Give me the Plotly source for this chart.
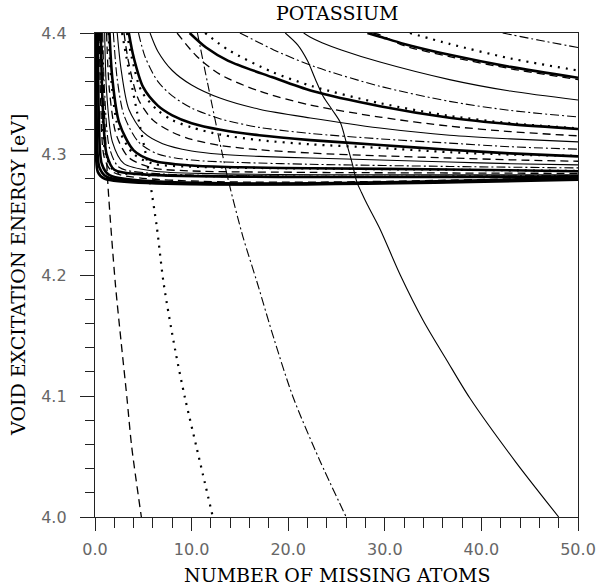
import plotly.graph_objects as go

# ---------------- data (N = missing atoms, E = eV) ----------------
DD1_N = [42.2, 46.0, 50.0]
DD1_E = [4.400, 4.394, 4.388]
D1_N = [32.6, 36.7, 43.0, 50.0]
D1_E = [4.400, 4.391, 4.379, 4.369]
T1_N = [28.2, 29.5, 32.0, 36.7, 43.0, 50.0]
T1_E = [4.400, 4.397, 4.391, 4.382, 4.372, 4.363]
DA1_N = [28.8, 29.5, 32.0, 36.7, 43.0, 50.0]
DA1_E = [4.400, 4.3985, 4.3895, 4.3805, 4.3705, 4.3615]

S2_N = [21.6, 22.3, 23.5, 25.5, 29.5, 36.7, 43.0, 50.0]
S2_E = [4.400, 4.3965, 4.392, 4.386, 4.376, 4.3615, 4.352, 4.3446]
DD2_N = [15.0, 17.0, 18.5, 22.8, 29.5, 36.7, 43.0, 50.0]
DD2_E = [4.400, 4.392, 4.386, 4.372, 4.356, 4.3435, 4.336, 4.3306]
T2_N = [9.8, 11.5, 13.8, 18.3, 22.5, 29.5, 36.7, 43.0, 50.0]
T2_E = [4.400, 4.388, 4.377, 4.3636, 4.352, 4.3395, 4.330, 4.3247, 4.3207]
D2_N = [11.4, 13.8, 18.3, 22.5, 29.5, 36.7, 43.0, 50.0]
D2_E = [4.400, 4.386, 4.368, 4.356, 4.342, 4.3315, 4.3255, 4.3212]
DA2_N = [8.5, 10.5, 12.9, 17.0, 22.3, 29.5, 36.7, 43.0, 50.0]
DA2_E = [4.400, 4.381, 4.366, 4.352, 4.3405, 4.3305, 4.323, 4.3185, 4.315]

S3_N = [5.7, 6.5, 8.0, 10.0, 13.0, 17.0, 22.3, 29.5, 36.7, 43.0, 50.0]
S3_E = [4.400, 4.385, 4.369, 4.357, 4.346, 4.337, 4.3298, 4.3215, 4.3155, 4.3125, 4.310]
DD3_N = [4.5, 5.2, 6.5, 8.0, 10.0, 13.0, 17.0, 22.3, 29.5, 36.7, 43.0, 50.0]
DD3_E = [4.400, 4.380, 4.360, 4.348, 4.338, 4.329, 4.322, 4.317, 4.3125, 4.309, 4.306, 4.304]
T3_N = [3.5, 4.0, 5.0, 6.5, 8.0, 10.0, 13.0, 17.0, 22.3, 29.5, 36.7, 43.0, 50.0]
T3_E = [4.400, 4.380, 4.355, 4.340, 4.332, 4.3255, 4.320, 4.3155, 4.3115, 4.3075, 4.3035, 4.3005, 4.298]
D3_N = [3.3, 3.8, 4.8, 6.5, 8.0, 10.0, 13.0, 17.0, 22.3, 29.5, 36.7, 43.0, 50.0]
D3_E = [4.400, 4.380, 4.352, 4.336, 4.328, 4.322, 4.316, 4.3115, 4.308, 4.305, 4.3015, 4.2995, 4.2985]
DA3_N = [3.0, 3.5, 4.5, 6.0, 8.0, 10.0, 13.0, 17.0, 22.3, 29.5, 36.7, 43.0, 50.0]
DA3_E = [4.400, 4.375, 4.345, 4.328, 4.318, 4.312, 4.307, 4.3035, 4.3008, 4.2985, 4.2967, 4.2952, 4.294]

S4_N = [2.3, 2.7, 3.5, 5.0, 7.0, 10.0, 13.0, 17.0, 22.3, 29.5, 36.7, 43.0, 50.0]
S4_E = [4.400, 4.370, 4.337, 4.318, 4.3085, 4.3025, 4.2998, 4.298, 4.2967, 4.295, 4.2934, 4.292, 4.291]
DD4_N = [1.9, 2.3, 3.0, 4.5, 6.5, 10.0, 15.0, 22.3, 36.7, 50.0]
DD4_E = [4.400, 4.362, 4.332, 4.310, 4.300, 4.295, 4.293, 4.2915, 4.2897, 4.2885]
T4_N = [1.5, 1.8, 2.5, 4.0, 6.0, 10.0, 15.0, 22.3, 36.7, 50.0]
T4_E = [4.400, 4.362, 4.326, 4.303, 4.2945, 4.2905, 4.289, 4.2882, 4.2872, 4.2858]
D4_N = [1.4, 1.7, 2.4, 4.0, 6.0, 10.0, 22.3, 36.7, 50.0]
D4_E = [4.400, 4.360, 4.322, 4.300, 4.292, 4.2895, 4.288, 4.287, 4.286]
DA4_N = [1.2, 1.5, 2.2, 3.5, 6.0, 10.0, 22.3, 36.7, 50.0]
DA4_E = [4.400, 4.352, 4.316, 4.297, 4.2885, 4.286, 4.2848, 4.2843, 4.284]

S5_N = [1.0, 1.2, 1.8, 3.0, 6.0, 12.0, 50.0]
S5_E = [4.400, 4.352, 4.310, 4.292, 4.286, 4.2838, 4.2828]
DD5_N = [0.8, 1.0, 1.5, 2.5, 6.0, 50.0]
DD5_E = [4.400, 4.350, 4.305, 4.289, 4.284, 4.2822]
T5_N = [0.6, 0.8, 1.2, 2.0, 5.0, 50.0]
T5_E = [4.400, 4.340, 4.300, 4.287, 4.2832, 4.2815]
D5_N = [0.55, 0.75, 1.1, 2.0, 5.0, 50.0]
D5_E = [4.400, 4.340, 4.300, 4.286, 4.283, 4.2813]
DA5_N = [0.45, 0.6, 1.0, 2.0, 50.0]
DA5_E = [4.400, 4.340, 4.296, 4.2845, 4.281]
T6_N = [0.3, 0.4, 0.7, 1.5, 50.0]
T6_E = [4.400, 4.330, 4.292, 4.2825, 4.2805]
T7_N = [0.15, 0.2, 0.45, 1.2, 50.0]
T7_E = [4.400, 4.320, 4.289, 4.2812, 4.2797]
T8_N = [0.05, 0.08, 0.3, 1.0, 50.0]
T8_E = [4.400, 4.320, 4.285, 4.2795, 4.2788]

# steep curves that cross the threshold
SS_N = [19.7, 21.0, 22.0, 22.8, 23.6, 24.6, 25.4, 26.0, 26.6, 27.1, 27.6, 28.2, 29.5, 31.6, 34.0, 36.4, 38.8, 43.5, 48.0]
SS_E = [4.400, 4.390, 4.377, 4.362, 4.348, 4.336, 4.326, 4.310, 4.293, 4.277, 4.268, 4.258, 4.238, 4.200, 4.162, 4.1298, 4.0983, 4.046, 4.000]
SDD_N = [10.6, 11.65, 13.1, 13.9, 15.3, 16.8, 18.5, 20.5, 23.2, 26.0]
SDD_E = [4.400, 4.3587, 4.303, 4.275, 4.232, 4.1934, 4.148, 4.0992, 4.048, 4.000]
SD_N = [2.8, 3.6, 4.6, 5.3, 5.7, 6.4, 7.1, 8.3, 9.3, 10.5, 12.2]
SD_E = [4.400, 4.365, 4.325, 4.298, 4.277, 4.2397, 4.1934, 4.138, 4.099, 4.058, 4.000]
SDA_N = [0.7, 1.0, 1.35, 2.1, 2.7, 3.3, 3.8, 4.8]
SDA_E = [4.400, 4.330, 4.273, 4.1934, 4.145, 4.099, 4.058, 4.000]

TITLE = "POTASSIUM"
X_TITLE = "NUMBER OF MISSING ATOMS"
Y_TITLE = "VOID EXCITATION ENERGY [eV]"

# ---------------- styles ----------------
STYLE = {
    "S": dict(color="black", width=1.1, dash="solid"),
    "DD": dict(color="black", width=1.1, dash="9px,3px,2px,3px"),
    "T": dict(color="black", width=2.6, dash="solid"),
    "D": dict(color="black", width=2.2, dash="2px,6px"),
    "DA": dict(color="black", width=1.3, dash="8px,5px"),
}

curves = [
    (DD1_N, DD1_E, "DD"), (D1_N, D1_E, "D"), (T1_N, T1_E, "T"), (DA1_N, DA1_E, "DA"),
    (S2_N, S2_E, "S"), (DD2_N, DD2_E, "DD"), (T2_N, T2_E, "T"), (D2_N, D2_E, "D"), (DA2_N, DA2_E, "DA"),
    (S3_N, S3_E, "S"), (DD3_N, DD3_E, "DD"), (T3_N, T3_E, "T"), (D3_N, D3_E, "D"), (DA3_N, DA3_E, "DA"),
    (S4_N, S4_E, "S"), (DD4_N, DD4_E, "DD"), (T4_N, T4_E, "T"), (D4_N, D4_E, "D"), (DA4_N, DA4_E, "DA"),
    (S5_N, S5_E, "S"), (DD5_N, DD5_E, "DD"), (T5_N, T5_E, "T"), (D5_N, D5_E, "D"), (DA5_N, DA5_E, "DA"),
    (T6_N, T6_E, "T"), (T7_N, T7_E, "T"), (T8_N, T8_E, "T"),
    (SS_N, SS_E, "S"), (SDD_N, SDD_E, "DD"), (SD_N, SD_E, "D"), (SDA_N, SDA_E, "DA"),
]

fig = go.Figure()
for n, e, st in curves:
    fig.add_trace(go.Scatter(
        x=n, y=e, mode="lines",
        line=dict(shape="spline", smoothing=0.8, **STYLE[st]),
        showlegend=False, hoverinfo="skip",
    ))

tick_font = dict(family="DejaVu Sans", size=16, color="#666")
serif = "DejaVu Serif"

fig.update_layout(
    width=603, height=587,
    margin=dict(l=95, r=25, t=33, b=70, autoexpand=False),
    paper_bgcolor="white", plot_bgcolor="white",
    showlegend=False,
    xaxis=dict(
        range=[0, 50], tickmode="linear", tick0=0, dtick=10, tickformat=".1f",
        ticks="outside", ticklen=13, tickwidth=1.2, tickcolor="#222",
        minor=dict(dtick=2, ticks="outside", ticklen=10, tickwidth=1.2, tickcolor="#222", showgrid=False),
        showline=True, linecolor="#222", linewidth=1.4, mirror=True, automargin=False,
        showgrid=False, zeroline=False, tickfont=tick_font, ticklabelstandoff=5,
    ),
    yaxis=dict(
        range=[4.0, 4.4], tickmode="linear", tick0=4.0, dtick=0.1, tickformat=".1f",
        ticks="outside", ticklen=14, tickwidth=1.2, tickcolor="#222",
        minor=dict(dtick=0.02, ticks="outside", ticklen=9, tickwidth=1.2, tickcolor="#222", showgrid=False),
        showline=True, linecolor="#222", linewidth=1.4, mirror=True, automargin=False,
        showgrid=False, zeroline=False, tickfont=tick_font, ticklabelstandoff=10,
    ),
    annotations=[
        dict(text=TITLE, xref="paper", yref="paper", x=0.5, y=1.0, yshift=20,
             showarrow=False, font=dict(family=serif, size=19, color="black"),
             xanchor="center", yanchor="middle"),
        dict(text=X_TITLE, xref="paper", yref="paper", x=0.5, y=0.0, yshift=-58,
             showarrow=False, font=dict(family=serif, size=19, color="black"),
             xanchor="center", yanchor="middle"),
        dict(text=Y_TITLE, xref="paper", yref="paper", x=0.0, y=0.5, xshift=-77,
             showarrow=False, textangle=-90, font=dict(family=serif, size=19, color="black"),
             xanchor="center", yanchor="middle"),
    ],
)

fig.write_html("out.html")
